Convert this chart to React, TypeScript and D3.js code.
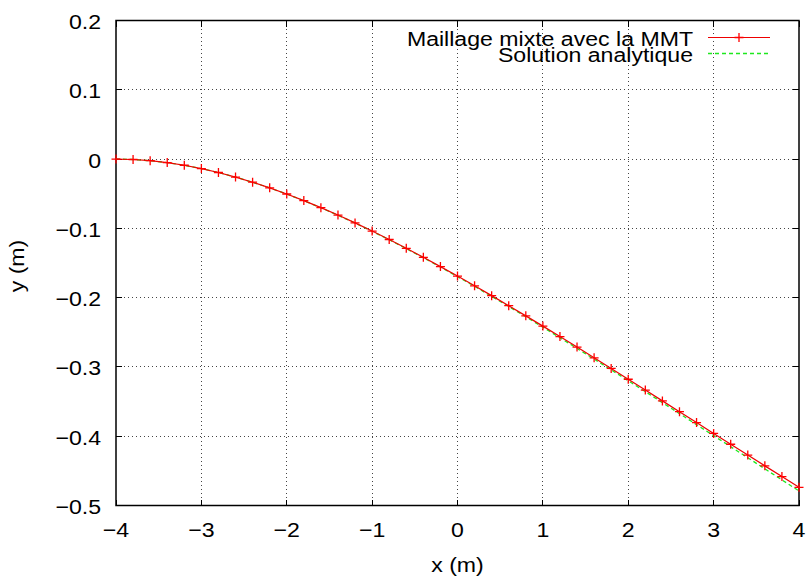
import React from "react";
import * as d3 from "d3";

const xValues = [-4, -3.8, -3.6, -3.4, -3.2, -3, -2.8, -2.6, -2.4, -2.2, -2, -1.8, -1.6, -1.4, -1.2, -1, -0.8, -0.6, -0.4, -0.2, 0, 0.2, 0.4, 0.6, 0.8, 1, 1.2, 1.4, 1.6, 1.8, 2, 2.2, 2.4, 2.6, 2.8, 3, 3.2, 3.4, 3.6, 3.8, 4];
const mmtValues = [0, -0.0006, -0.0023, -0.0051, -0.0089, -0.0137, -0.0194, -0.026, -0.0334, -0.0415, -0.0504, -0.0599, -0.0701, -0.0808, -0.0921, -0.1039, -0.1161, -0.1288, -0.1418, -0.1552, -0.1689, -0.1829, -0.1971, -0.2116, -0.2263, -0.2411, -0.2562, -0.2714, -0.2868, -0.3022, -0.3178, -0.3334, -0.349, -0.3646, -0.3803, -0.396, -0.4116, -0.4272, -0.4428, -0.4583, -0.4738];
const analyticValues = [0, -0.00059, -0.00232, -0.00512, -0.00896, -0.01376, -0.01948, -0.02607, -0.03347, -0.04163, -0.05052, -0.06008, -0.07027, -0.08105, -0.09237, -0.1042, -0.11649, -0.12922, -0.14234, -0.15583, -0.16965, -0.18376, -0.19815, -0.21278, -0.22762, -0.24266, -0.25787, -0.27322, -0.2887, -0.30429, -0.31996, -0.33571, -0.35152, -0.36738, -0.38328, -0.39921, -0.41515, -0.43111, -0.44707, -0.46304, -0.479];
const xTicks = [-4, -3, -2, -1, 0, 1, 2, 3, 4];
const yTicks = [0.2, 0.1, 0, -0.1, -0.2, -0.3, -0.4, -0.5];
const seriesNames = ["Maillage mixte avec la MMT", "Solution analytique"];
const xLabel = "x (m)";
const yLabel = "y (m)";

const W = 810, H = 580;
const L = 116, R = 799, T = 20.5, B = 505.5;
const FONT = "'Liberation Sans', Arial, Helvetica, sans-serif";
const FS = 21;
const SX = 1.1;
const GREEN = "#1ee81e";

function fmt(v: number) {
  const s = d3.format("")(Math.round(v * 10) / 10);
  return s.replace("-", "\u2212");
}

function Txt({ x, y, anchor, children, rotate }: { x: number; y: number; anchor: string; children: React.ReactNode; rotate?: boolean }) {
  const tr = rotate ? `translate(${x},${y}) rotate(-90) scale(${SX},1)` : `translate(${x},${y}) scale(${SX},1)`;
  return (
    <text transform={tr} textAnchor={anchor} fontSize={FS} fill="#000">{children}</text>
  );
}

export default function App() {
  const x = d3.scaleLinear().domain([-4, 4]).range([L, R]);
  const y = d3.scaleLinear().domain([-0.5, 0.2]).range([B, T]);
  const line = d3.line<number>().x((_, i) => x(xValues[i])).y((d) => y(d));
  const tl = 6;
  const ms = 4.5;
  return (
    <svg width={W} height={H} style={{ position: "absolute", left: 0, top: 0, background: "#fff" }} fontFamily={FONT}>
      {/* grid */}
      {xTicks.slice(1, -1).map((t) => (
        <line key={"gx" + t} x1={x(t)} x2={x(t)} y1={T} y2={B} stroke="#444" strokeWidth={1} strokeDasharray="1,3" shapeRendering="crispEdges" />
      ))}
      {yTicks.slice(1, -1).map((t) => (
        <line key={"gy" + t} x1={L} x2={R} y1={y(t)} y2={y(t)} stroke="#444" strokeWidth={1} strokeDasharray="1,3" shapeRendering="crispEdges" />
      ))}
      {/* ticks */}
      {xTicks.map((t) => (
        <g key={"tx" + t}>
          <line x1={x(t)} x2={x(t)} y1={B} y2={B - tl} stroke="#000" shapeRendering="crispEdges" />
          <line x1={x(t)} x2={x(t)} y1={T} y2={T + tl} stroke="#000" shapeRendering="crispEdges" />
          <Txt x={x(t)} y={537} anchor="middle">{fmt(t)}</Txt>
        </g>
      ))}
      {yTicks.map((t) => (
        <g key={"ty" + t}>
          <line x1={L} x2={L + tl} y1={y(t)} y2={y(t)} stroke="#000" shapeRendering="crispEdges" />
          <line x1={R} x2={R - tl} y1={y(t)} y2={y(t)} stroke="#000" shapeRendering="crispEdges" />
          <Txt x={101} y={y(t) + 8.5} anchor="end">{fmt(t)}</Txt>
        </g>
      ))}
      {/* frame */}
      <rect x={L} y={T} width={R - L} height={B - T} fill="none" stroke="#000" strokeWidth={1.5} />
      {/* analytic */}
      <path d={line(analyticValues) || ""} fill="none" stroke={GREEN} strokeWidth={1.3} strokeDasharray="4,3" />
      {/* MMT */}
      <path d={line(mmtValues) || ""} fill="none" stroke="#ee0000" strokeWidth={1.2} />
      {mmtValues.map((v, i) => (
        <path key={"m" + i} d={`M${x(xValues[i]) - ms},${y(v)}h${2 * ms}M${x(xValues[i])},${y(v) - ms}v${2 * ms}`} stroke="#ff0000" strokeWidth={1.3} />
      ))}
      {/* legend */}
      <Txt x={693} y={45.5} anchor="end">{seriesNames[0]}</Txt>
      <line x1={708} x2={770} y1={37.5} y2={37.5} stroke="#ee0000" strokeWidth={1.2} />
      <path d={`M${739 - ms},37.5h${2 * ms}M739,${37.5 - ms}v${2 * ms}`} stroke="#ff0000" strokeWidth={1.3} />
      <Txt x={693} y={62} anchor="end">{seriesNames[1]}</Txt>
      <line x1={708} x2={770} y1={53.5} y2={53.5} stroke={GREEN} strokeWidth={1.3} strokeDasharray="4,3" />
      {/* axis labels */}
      <Txt x={(L + R) / 2} y={572} anchor="middle">{xLabel}</Txt>
      <Txt x={24} y={266} anchor="middle" rotate>{yLabel}</Txt>
    </svg>
  );
}
